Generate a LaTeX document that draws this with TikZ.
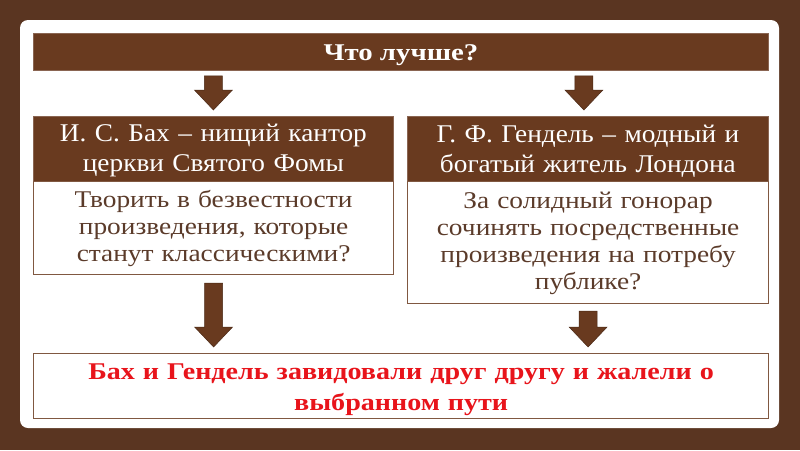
\documentclass[tikz,border=0pt]{standalone}
\usepackage{fontspec}
\setmainfont{Liberation Serif}
\newfontfamily\headfont[FakeStretch=1.07]{Liberation Serif}
\newfontfamily\bodyfont[FakeStretch=1.14]{Liberation Serif}
\newfontfamily\boldfont[FakeStretch=1.17]{Liberation Serif}
\newfontfamily\topfont[FakeStretch=1.2]{Liberation Serif}
\usetikzlibrary{calc}
\definecolor{bgbrown}{HTML}{5A3521}
\definecolor{barbrown}{HTML}{693A1F}
\definecolor{edgebrown}{HTML}{8A6552}
\definecolor{bodytxt}{HTML}{5B3B2A}
\definecolor{redtxt}{HTML}{E8141B}
\begin{document}
\begin{tikzpicture}[x=1pt,y=-1pt,
  barbox/.style={draw=edgebrown,line width=0.8pt,fill=barbrown,anchor=north west,inner sep=0pt},
  bodybox/.style={draw=barbrown!85,line width=1.2pt,fill=white,anchor=north west,inner sep=0pt},
  headtext/.style={text=white,inner sep=0pt,align=center,font=\headfont\fontsize{25.5}{30}\selectfont,text width=355pt},
  bodytext/.style={text=bodytxt,inner sep=0pt,align=center,font=\bodyfont\fontsize{24}{27}\selectfont,text width=355pt},
  barrow/.style={fill=barbrown,draw=barbrown!70!black,line width=0.5pt,line join=miter}]
\useasboundingbox (0,0) rectangle (800,450);
\fill[bgbrown] (0,0) rectangle (800,450);
\fill[white,rounded corners=8pt] (20,20) rectangle (779,428);
% boxes
\node[barbox,minimum width=735pt,minimum height=37pt] (top) at (33,33) {};
\node[barbox,minimum width=360pt,minimum height=65pt] (lhead) at (33,116) {};
\node[barbox,minimum width=361pt,minimum height=65pt] (rhead) at (407,116) {};
\node[bodybox,minimum width=360pt,minimum height=93pt] (lbody) at (33,181) {};
\node[bodybox,minimum width=361pt,minimum height=122pt] (rbody) at (407,181) {};
\node[bodybox,minimum width=735pt,minimum height=65pt] (bottom) at (33,353) {};
% texts
\node[text=white,inner sep=0pt,font=\topfont\bfseries\fontsize{24}{28}\selectfont] (toptext) at ($(top.center)+(0,3)$) {Что лучше?};
\node[headtext] (lheadtext) at ($(lhead.center)+(0,2)$) {И. С. Бах – нищий кантор\\церкви Святого Фомы};
\node[headtext] (rheadtext) at ($(rhead.center)+(0,2)$) {Г. Ф. Гендель – модный и\\богатый житель Лондона};
\node[bodytext] (lbodytext) at ($(lbody.center)+(0,0.5)$) {Творить в безвестности\\произведения, которые\\станут классическими?};
\node[bodytext] (rbodytext) at ($(rbody.center)+(0,0.5)$) {За солидный гонорар\\сочинять посредственные\\произведения на потребу\\публике?};
\node[text=redtxt,inner sep=0pt,align=center,text width=720pt,font=\boldfont\bfseries\fontsize{24}{31}\selectfont] (bottomtext) at ($(bottom.center)+(0,4)$) {Бах и Гендель завидовали друг другу и жалели о\\выбранном пути};
\newcommand{\blockarrow}[2]{%
  \path[barrow] let \p1=(#1), \p2=(#2) in
    (\x1-9pt,\y1) -- (\x1+9pt,\y1) -- (\x1+9pt,\y2+20pt) -- (\x1+19pt,\y2+20pt)
    -- (\x1,\y2) -- (\x1-19pt,\y2+20pt) -- (\x1-9pt,\y2+20pt) -- cycle;}
\coordinate (a1s) at ($(top.south -| lhead.north)+(0,5)$);
\coordinate (a1e) at ($(lhead.north)+(0,-6)$);
\coordinate (a2s) at ($(top.south -| rhead.north)+(-4,5)$);
\coordinate (a2e) at ($(rhead.north)+(-4,-6)$);
\coordinate (a3s) at ($(lbody.south)+(0,8)$);
\coordinate (a3e) at ($(bottom.north -| lbody.south)+(0,-6)$);
\coordinate (a4s) at ($(rbody.south)+(0,7)$);
\coordinate (a4e) at ($(bottom.north -| rbody.south)+(0,-6)$);
\blockarrow{a1s}{a1e}
\blockarrow{a2s}{a2e}
\blockarrow{a3s}{a3e}
\blockarrow{a4s}{a4e}
\end{tikzpicture}
\end{document}
